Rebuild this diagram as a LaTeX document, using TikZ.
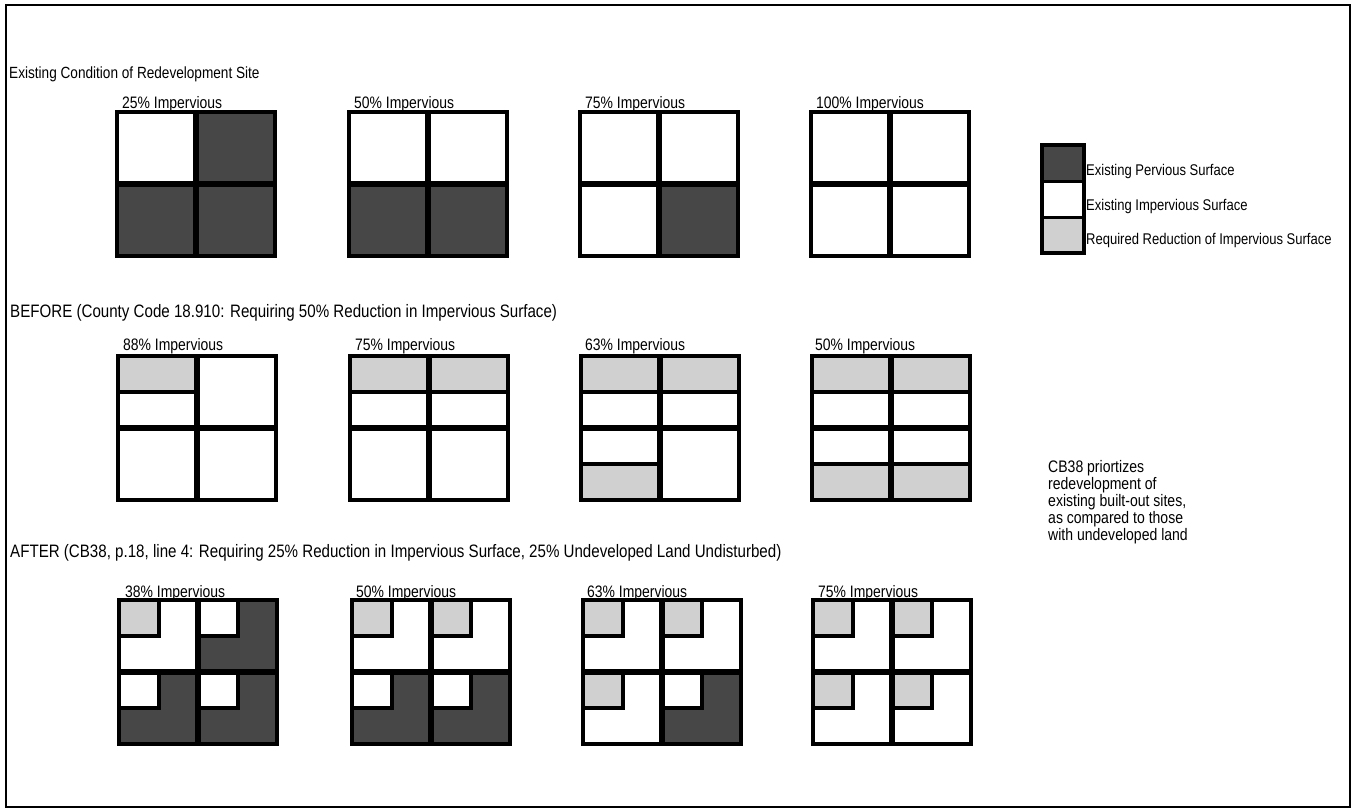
\documentclass[tikz,border=0pt]{standalone}
\usepackage{fontspec}
\setmainfont{Liberation Sans}
\newfontfamily\nf{Liberation Sans}[FakeStretch=0.84]
\definecolor{perv}{HTML}{474747}
\definecolor{redu}{HTML}{D0D0D0}
\tikzset{
  outerline/.style={line width=4.5pt, line join=miter},
  divline/.style={line width=5.5pt},
  subline/.style={line width=4.5pt},
  lab/.style={font=\nf\fontsize{16.6}{18}\selectfont, anchor=base west, inner sep=0pt},
  ttlA/.style={font=\nf\fontsize{16.2}{18}\selectfont, anchor=base west, inner sep=0pt},
  ttlB/.style={font=\nf\fontsize{18}{19}\selectfont, anchor=base west, inner sep=0pt},
  leg/.style={font=\nf\fontsize{15.5}{17}\selectfont, anchor=base west, inner sep=0pt},
  para/.style={font=\nf\fontsize{16.7}{17}\selectfont, anchor=base west, inner sep=0pt},
}
% quadrant helpers (local coordinates, quadrant 79 x 72)
\newcommand\qfull[3]{\fill[#3] (#1,#2) rectangle ++(79,72);}
\newcommand\qsplit[4]{%
  \fill[#3] (#1,#2) rectangle ++(79,36);
  \fill[#4] (#1,#2+36) rectangle ++(79,36);
  \draw[subline] (#1,#2+36) -- ++(79,0);}
\newcommand\qnotch[4]{%
  \fill[#4] (#1,#2) rectangle ++(79,72);
  \fill[#3] (#1,#2) rectangle ++(40,36);
  \draw[subline] (#1+40,#2) -- (#1+40,#2+36) -- (#1,#2+36);}
\newcommand\sqframe{%
  \draw[divline] (79,0) -- (79,144) (0,72) -- (158,72);
  \draw[outerline] (0,0) rectangle (158,144);}
\begin{document}
\begin{tikzpicture}[x=1pt,y=-1pt]
\useasboundingbox (0,0) rectangle (1356,809);
\fill[white] (0,0) rectangle (1356,809);
% outer frame
\draw[line width=2.5pt] (6,5) rectangle (1350,807);

% ---------------- titles
\node[ttlA] (t1) at (9,78) {Existing Condition of Redevelopment Site};
\node[ttlB] (t2) at (10,317) {BEFORE (County Code 18.910: Requiring 50\% Reduction in Impervious Surface)};
\node[ttlB] (t3) at (10,557) {AFTER (CB38, p.18, line 4: Requiring 25\% Reduction in Impervious Surface, 25\% Undeveloped Land Undisturbed)};

% ---------------- row 1: existing
\begin{scope}[shift={(117,112)}]
  \qfull{0}{0}{white}\qfull{79}{0}{perv}\qfull{0}{72}{perv}\qfull{79}{72}{perv}
  \sqframe
\end{scope}
\begin{scope}[shift={(349,112)}]
  \qfull{0}{0}{white}\qfull{79}{0}{white}\qfull{0}{72}{perv}\qfull{79}{72}{perv}
  \sqframe
\end{scope}
\begin{scope}[shift={(580,112)}]
  \qfull{0}{0}{white}\qfull{79}{0}{white}\qfull{0}{72}{white}\qfull{79}{72}{perv}
  \sqframe
\end{scope}
\begin{scope}[shift={(811,112)}]
  \qfull{0}{0}{white}\qfull{79}{0}{white}\qfull{0}{72}{white}\qfull{79}{72}{white}
  \sqframe
\end{scope}
\node[lab] (l11) at (122,108) {25\% Impervious};
\node[lab] (l12) at (354,108) {50\% Impervious};
\node[lab] (l13) at (585,108) {75\% Impervious};
\node[lab] (l14) at (816,108) {100\% Impervious};

% ---------------- row 2: before
\begin{scope}[shift={(118,356)}]
  \qsplit{0}{0}{redu}{white}\qfull{79}{0}{white}\qfull{0}{72}{white}\qfull{79}{72}{white}
  \sqframe
\end{scope}
\begin{scope}[shift={(350,356)}]
  \qsplit{0}{0}{redu}{white}\qsplit{79}{0}{redu}{white}\qfull{0}{72}{white}\qfull{79}{72}{white}
  \sqframe
\end{scope}
\begin{scope}[shift={(581,356)}]
  \qsplit{0}{0}{redu}{white}\qsplit{79}{0}{redu}{white}\qsplit{0}{72}{white}{redu}\qfull{79}{72}{white}
  \sqframe
\end{scope}
\begin{scope}[shift={(812,356)}]
  \qsplit{0}{0}{redu}{white}\qsplit{79}{0}{redu}{white}\qsplit{0}{72}{white}{redu}\qsplit{79}{72}{white}{redu}
  \sqframe
\end{scope}
\node[lab] (l21) at (123,350) {88\% Impervious};
\node[lab] (l22) at (355,350) {75\% Impervious};
\node[lab] (l23) at (585,350) {63\% Impervious};
\node[lab] (l24) at (815,350) {50\% Impervious};

% ---------------- row 3: after
\begin{scope}[shift={(119,600)}]
  \qnotch{0}{0}{redu}{white}\qnotch{79}{0}{white}{perv}\qnotch{0}{72}{white}{perv}\qnotch{79}{72}{white}{perv}
  \sqframe
\end{scope}
\begin{scope}[shift={(352,600)}]
  \qnotch{0}{0}{redu}{white}\qnotch{79}{0}{redu}{white}\qnotch{0}{72}{white}{perv}\qnotch{79}{72}{white}{perv}
  \sqframe
\end{scope}
\begin{scope}[shift={(583,600)}]
  \qnotch{0}{0}{redu}{white}\qnotch{79}{0}{redu}{white}\qnotch{0}{72}{redu}{white}\qnotch{79}{72}{white}{perv}
  \sqframe
\end{scope}
\begin{scope}[shift={(813,600)}]
  \qnotch{0}{0}{redu}{white}\qnotch{79}{0}{redu}{white}\qnotch{0}{72}{redu}{white}\qnotch{79}{72}{redu}{white}
  \sqframe
\end{scope}
\node[lab] (l31) at (125,597) {38\% Impervious};
\node[lab] (l32) at (356,597) {50\% Impervious};
\node[lab] (l33) at (587,597) {63\% Impervious};
\node[lab] (l34) at (818,597) {75\% Impervious};

% ---------------- legend
\fill[perv] (1042,145) rectangle (1084,181);
\fill[redu] (1042,217) rectangle (1084,253);
\draw[line width=3pt] (1042,181) -- (1084,181) (1042,217) -- (1084,217);
\draw[line width=3.5pt, line join=miter] (1042,145) rectangle (1084,253);
\node[leg] (g1) at (1086,175) {Existing Pervious Surface};
\node[leg] (g2) at (1086,210) {Existing Impervious Surface};
\node[leg] (g3) at (1086,244) {Required Reduction of Impervious Surface};

% ---------------- note
\node[para] (p1) at (1048,472) {CB38 priortizes};
\node[para] (p2) at (1048,489) {redevelopment of};
\node[para] (p3) at (1048,506) {existing built-out sites,};
\node[para] (p4) at (1048,523) {as compared to those};
\node[para] (p5) at (1048,540) {with undeveloped land};
\end{tikzpicture}
\end{document}
